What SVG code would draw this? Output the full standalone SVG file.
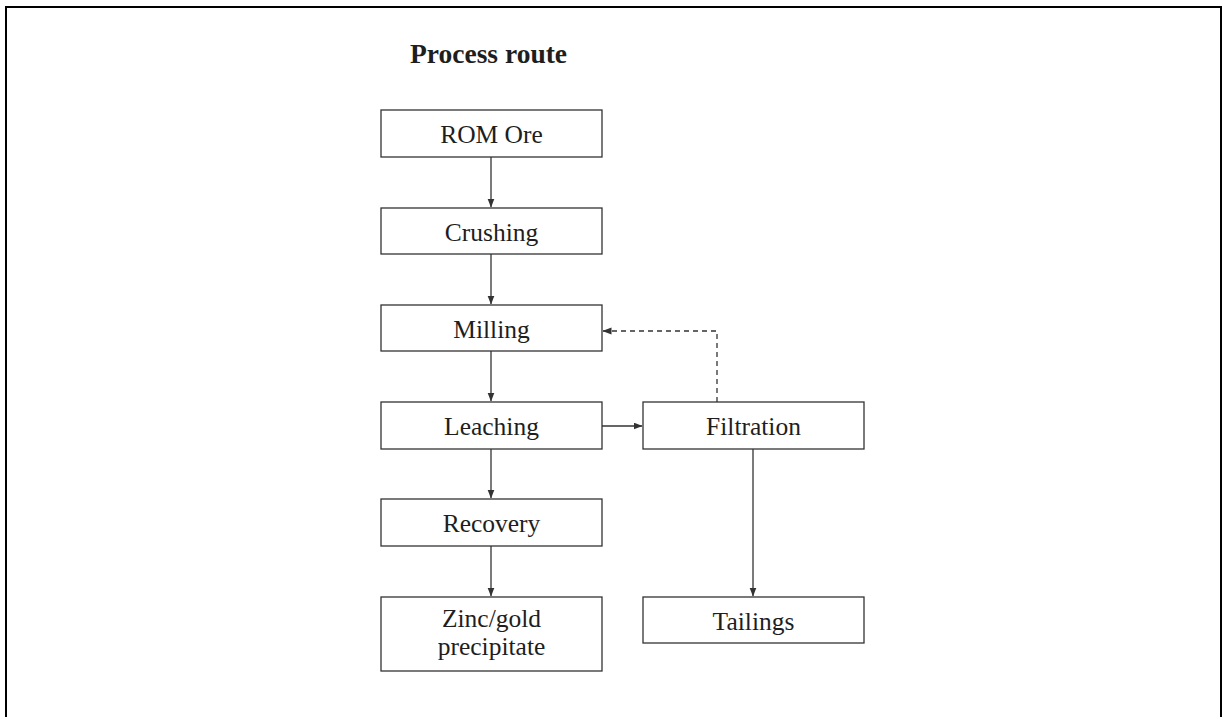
<svg xmlns="http://www.w3.org/2000/svg" width="1223" height="717" viewBox="0 0 1223 717">
  <style>
    .box { fill: #ffffff; stroke: #333333; stroke-width: 1.3; }
    .lbl { font-family: "Liberation Serif", "DejaVu Serif", serif; font-size: 25.5px; fill: #1e1e1e; text-anchor: middle; }
    .title { font-family: "Liberation Serif", "DejaVu Serif", serif; font-size: 27.5px; font-weight: bold; fill: #1e1e1e; }
    .conn { fill: none; stroke: #333333; stroke-width: 1.3; }
    .dash { stroke-dasharray: 5 4; }
  </style>
  <defs>
    <marker id="arr" markerUnits="userSpaceOnUse" markerWidth="9" markerHeight="8" refX="8.5" refY="3.5" orient="auto">
      <path d="M0,0 L9,3.5 L0,7 z" fill="#333333"/>
    </marker>
  </defs>
  <rect x="0" y="0" width="1223" height="717" fill="#ffffff"/>
  <path d="M6,717 L6,7 L1221,7 L1221,717" fill="none" stroke="#000000" stroke-width="2"/>
  <text class="title" x="410" y="63">Process route</text>

  <g id="connectors">
    <line class="conn" x1="491" y1="157" x2="491" y2="207" marker-end="url(#arr)"/>
    <line class="conn" x1="491" y1="254" x2="491" y2="304" marker-end="url(#arr)"/>
    <line class="conn" x1="491" y1="351" x2="491" y2="401" marker-end="url(#arr)"/>
    <line class="conn" x1="491" y1="449" x2="491" y2="498" marker-end="url(#arr)"/>
    <line class="conn" x1="491" y1="546" x2="491" y2="596" marker-end="url(#arr)"/>
    <line class="conn" x1="602" y1="426" x2="642" y2="426" marker-end="url(#arr)"/>
    <line class="conn" x1="753" y1="449" x2="753" y2="596" marker-end="url(#arr)"/>
    <path class="conn dash" d="M717,402 L717,331 L603,331" marker-end="url(#arr)"/>
  </g>

  <g id="rom-ore"><rect class="box" x="381" y="110" width="221" height="47"/><text class="lbl" x="491.5" y="143">ROM Ore</text></g>
  <g id="crushing"><rect class="box" x="381" y="208" width="221" height="46"/><text class="lbl" x="491.5" y="240.5">Crushing</text></g>
  <g id="milling"><rect class="box" x="381" y="305" width="221" height="46"/><text class="lbl" x="491.5" y="337.5">Milling</text></g>
  <g id="leaching"><rect class="box" x="381" y="402" width="221" height="47"/><text class="lbl" x="491.5" y="435">Leaching</text></g>
  <g id="filtration"><rect class="box" x="643" y="402" width="221" height="47"/><text class="lbl" x="753.5" y="435">Filtration</text></g>
  <g id="recovery"><rect class="box" x="381" y="499" width="221" height="47"/><text class="lbl" x="491.5" y="532">Recovery</text></g>
  <g id="zinc-gold"><rect class="box" x="381" y="597" width="221" height="74"/><text class="lbl" x="491.5" y="627">Zinc/gold</text><text class="lbl" x="491.5" y="655">precipitate</text></g>
  <g id="tailings"><rect class="box" x="643" y="597" width="221" height="46"/><text class="lbl" x="753.5" y="629.5">Tailings</text></g>
</svg>
